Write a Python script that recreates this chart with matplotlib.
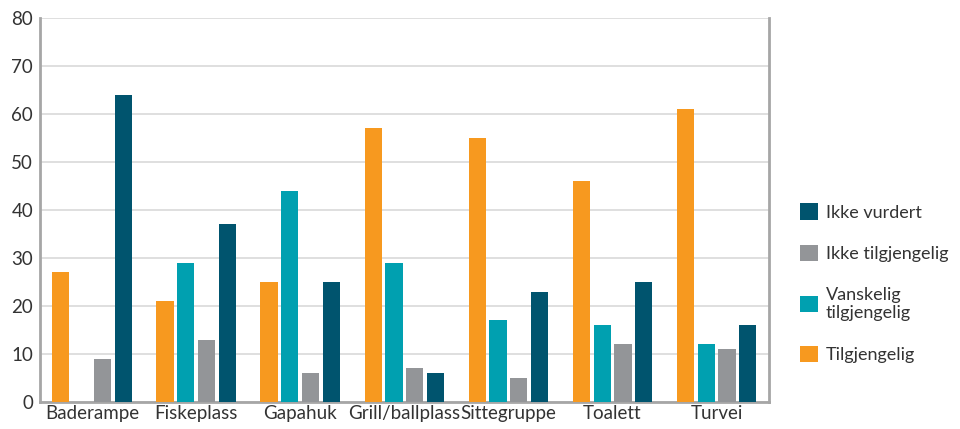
import numpy as np
import matplotlib.pyplot as plt

plt.rcParams['font.family'] = ['Lato', 'DejaVu Sans']

categories = ['Baderampe', 'Fiskeplass', 'Gapahuk', 'Grill/ballplass', 'Sittegruppe', 'Toalett', 'Turvei']
tilgjengelig = [27, 21, 25, 57, 55, 46, 61]
vanskelig = [0, 29, 44, 29, 17, 16, 12]
ikke_tilgjengelig = [9, 13, 6, 7, 5, 12, 11]
ikke_vurdert = [64, 37, 25, 6, 23, 25, 16]

series = [
    ('Tilgjengelig', tilgjengelig, '#F7991F'),
    ('Vanskelig\ntilgjengelig', vanskelig, '#00A0B0'),
    ('Ikke tilgjengelig', ikke_tilgjengelig, '#939598'),
    ('Ikke vurdert', ikke_vurdert, '#00546E'),
]

fig = plt.figure(figsize=(9.6, 4.29), dpi=100)
ax = fig.add_axes([0.0417, 0.063, 0.759, 0.895])

x = np.arange(len(categories))
offsets = [-0.3, -0.1, 0.1, 0.3]
for (label, vals, color), off in zip(series, offsets):
    ax.bar(x + off, vals, width=0.165, color=color, label=label, zorder=3)

ax.set_xlim(-0.5, len(categories) - 0.5)
ax.set_ylim(0, 80)
ax.set_yticks(range(0, 81, 10))
ax.set_xticks(x)
ax.set_xticklabels(categories)
ax.tick_params(length=0, labelsize=13.5, colors='#333333', pad=2)
ax.tick_params(axis='y', pad=5)
ax.grid(axis='y', color='#D9D9D9', linewidth=1.2, zorder=0)

for side in ['left', 'bottom', 'right']:
    ax.spines[side].set_color('#A6A6A6')
    ax.spines[side].set_linewidth(2)
ax.spines['top'].set_visible(False)

handles, labels = ax.get_legend_handles_labels()
leg = fig.legend(handles[::-1], labels[::-1], loc='center left', bbox_to_anchor=(0.818, 0.34),
                 frameon=False, fontsize=13, handlelength=1.0, handleheight=1.0,
                 labelspacing=1.35, handletextpad=0.45, borderpad=0.3)
for t in leg.get_texts():
    t.set_color('#333333')

fig.savefig('out.png', dpi=100)
